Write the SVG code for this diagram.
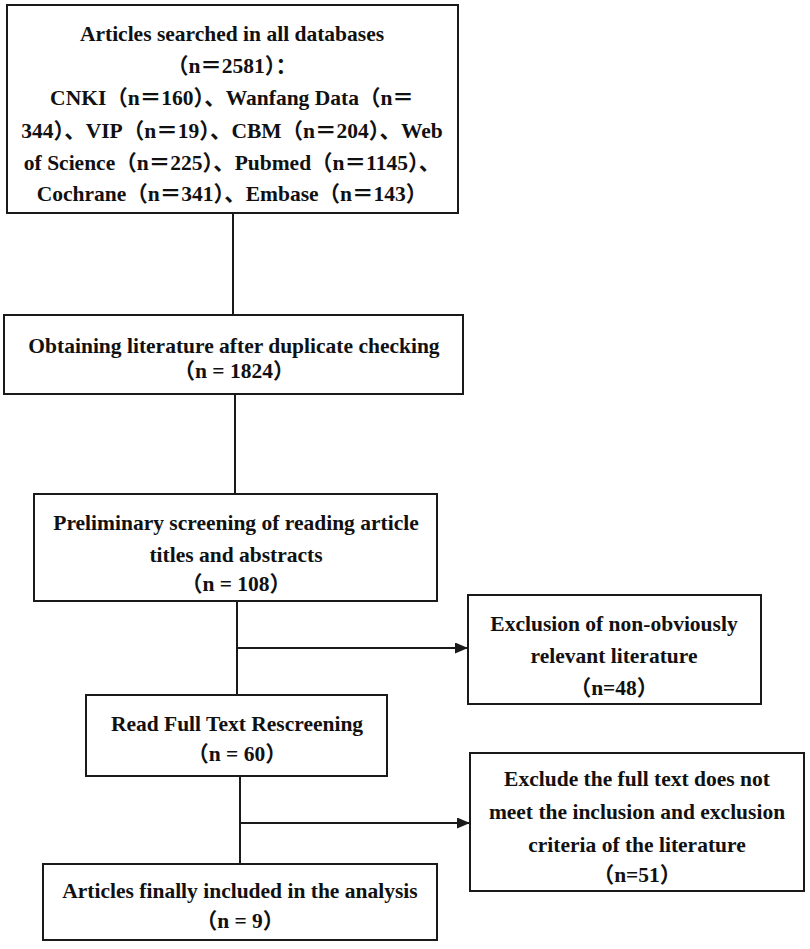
<svg xmlns="http://www.w3.org/2000/svg" width="810" height="949" viewBox="0 0 810 949">
<style>
.box{fill:#fff;stroke:#1a1a1a;stroke-width:2}
.t{font-family:"Liberation Serif","Noto Sans CJK SC",serif;font-weight:bold;font-size:21.5px;fill:#111;text-anchor:middle}
.c{stroke:#1a1a1a;stroke-width:2;fill:none}
</style>
<defs>
<marker id="arr" markerUnits="userSpaceOnUse" markerWidth="13" markerHeight="11" refX="13" refY="5.5" orient="auto">
<path d="M0,0 L13,5.5 L0,11 z" fill="#1a1a1a"/>
</marker>
</defs>
<rect width="810" height="949" fill="#fff"/>
<g id="connectors">
<line class="c" x1="233" y1="213" x2="233" y2="315"/>
<line class="c" x1="235" y1="394" x2="235" y2="494"/>
<line class="c" x1="237" y1="601" x2="237" y2="695"/>
<line class="c" x1="237" y1="648" x2="468" y2="648" marker-end="url(#arr)"/>
<line class="c" x1="240" y1="776" x2="240" y2="864"/>
<line class="c" x1="240" y1="823" x2="470" y2="823" marker-end="url(#arr)"/>
</g>
<g id="n1">
<rect class="box" x="7" y="5" width="451" height="208"/>
<text class="t" x="232" y="41">Articles searched in all databases</text>
<text class="t" x="232" y="73">（n＝2581）：</text>
<text class="t" x="232" y="105">CNKI（n＝160）、Wanfang Data（n＝</text>
<text class="t" x="232" y="138">344）、VIP（n＝19）、CBM（n＝204）、Web</text>
<text class="t" x="232" y="170">of Science（n＝225）、Pubmed（n＝1145）、</text>
<text class="t" x="232" y="201">Cochrane（n＝341）、Embase（n＝143）</text>
</g>
<g id="n2">
<rect class="box" x="4" y="315" width="459" height="79"/>
<text class="t" x="234" y="353">Obtaining literature after duplicate checking</text>
<text class="t" x="234" y="378">（n = 1824）</text>
</g>
<g id="n3">
<rect class="box" x="34" y="494" width="403" height="107"/>
<text class="t" x="236" y="530">Preliminary screening of reading article</text>
<text class="t" x="236" y="562">titles and abstracts</text>
<text class="t" x="236" y="591">（n = 108）</text>
</g>
<g id="n4">
<rect class="box" x="468" y="595" width="293" height="109"/>
<text class="t" x="614" y="631">Exclusion of non-obviously</text>
<text class="t" x="614" y="663">relevant literature</text>
<text class="t" x="614" y="695">（n=48）</text>
</g>
<g id="n5">
<rect class="box" x="86" y="695" width="301" height="81"/>
<text class="t" x="237" y="731">Read Full Text Rescreening</text>
<text class="t" x="237" y="761">（n = 60）</text>
</g>
<g id="n6">
<rect class="box" x="470" y="753" width="334" height="138"/>
<text class="t" x="637" y="786">Exclude the full text does not</text>
<text class="t" x="637" y="819">meet the inclusion and exclusion</text>
<text class="t" x="637" y="852">criteria of the literature</text>
<text class="t" x="637" y="882">（n=51）</text>
</g>
<g id="n7">
<rect class="box" x="43" y="864" width="394" height="76"/>
<text class="t" x="240" y="898">Articles finally included in the analysis</text>
<text class="t" x="240" y="928">（n = 9）</text>
</g>
</svg>
